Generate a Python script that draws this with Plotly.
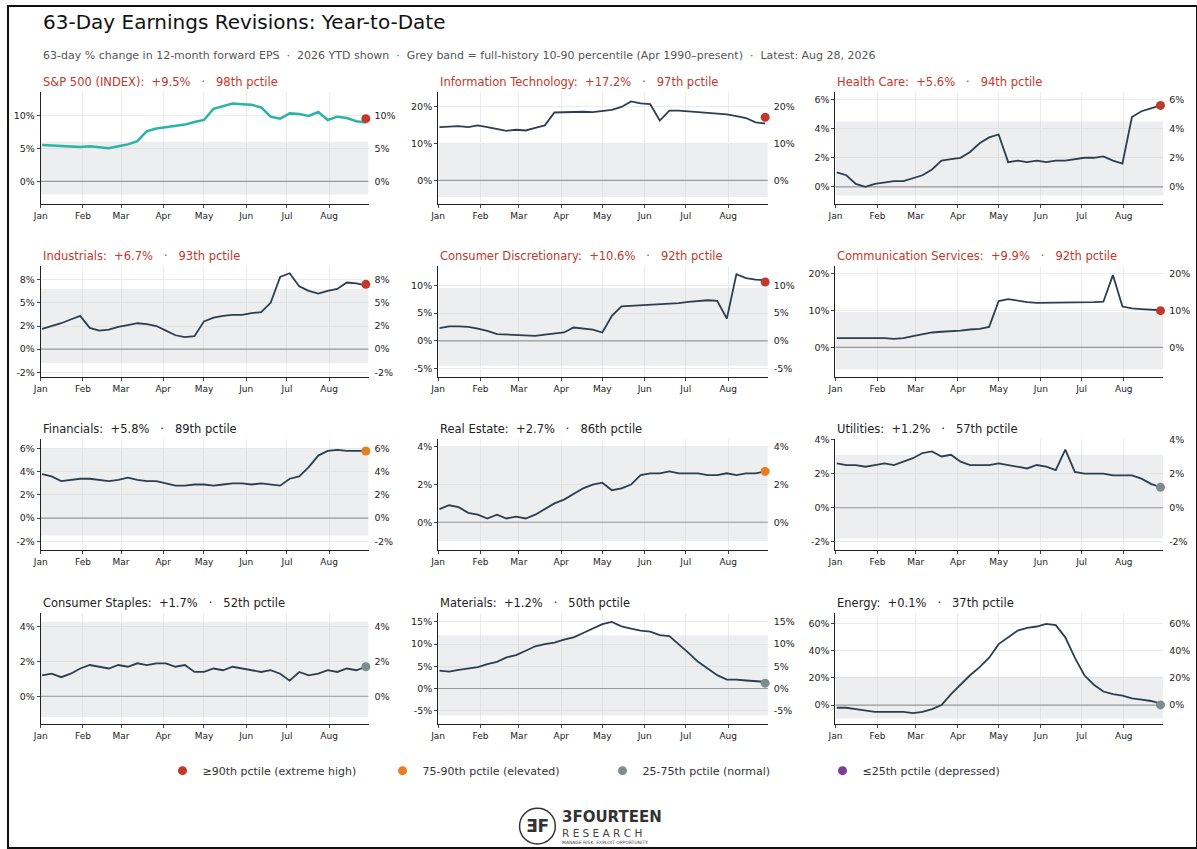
import plotly.graph_objects as go

dates = ["2026-01-02","2026-01-09","2026-01-16","2026-01-23","2026-01-30","2026-02-06","2026-02-13",
         "2026-02-20","2026-02-27","2026-03-06","2026-03-13","2026-03-20","2026-03-27","2026-04-03",
         "2026-04-10","2026-04-17","2026-04-24","2026-05-01","2026-05-08","2026-05-15","2026-05-22",
         "2026-05-29","2026-06-05","2026-06-12","2026-06-19","2026-06-26","2026-07-03","2026-07-10",
         "2026-07-17","2026-07-24","2026-07-31","2026-08-07","2026-08-14","2026-08-21","2026-08-28"]

names = ["S&P 500 (INDEX)", "Information Technology", "Health Care", "Industrials",
         "Consumer Discretionary", "Communication Services", "Financials", "Real Estate",
         "Utilities", "Consumer Staples", "Materials", "Energy"]
latest = [9.5, 17.2, 5.6, 6.7, 10.6, 9.9, 5.8, 2.7, 1.2, 1.7, 1.2, 0.1]
pctile = [98, 97, 94, 93, 92, 92, 89, 86, 57, 52, 50, 37]
dot_y = [9.5, 17.2, 5.6, 7.0, 10.6, 9.9, 5.8, 2.7, 1.2, 1.7, 1.2, 0.1]

sp500 = [5.5,5.4,5.3,5.3,5.2,5.3,5.2,5.0,5.3,5.6,6.1,7.6,8.0,8.2,8.3,8.6,9.0,9.3,11.0,11.4,11.8,11.7,11.6,11.2,9.8,9.5,10.3,10.2,9.9,10.5,9.3,9.8,9.6,9.1,8.9]
info_tech = [14.5,14.6,14.8,14.5,15.0,14.5,14.0,13.5,13.8,13.6,14.3,15.0,18.5,18.6,18.5,18.7,18.6,19.0,19.2,20.0,21.5,21.0,20.8,16.3,19.0,19.0,18.8,18.6,18.5,18.3,18.0,17.5,17.0,15.8,15.5]
health = [1.0,0.8,0.2,0.0,0.2,0.3,0.4,0.4,0.6,0.8,1.2,1.8,1.9,2.0,2.4,3.0,3.4,3.6,1.7,1.8,1.7,1.8,1.7,1.8,1.8,1.9,2.0,2.0,2.1,1.8,1.6,4.8,5.2,5.4,5.6]
industrials = [2.2,2.5,2.8,3.2,3.6,2.3,2.0,2.1,2.4,2.6,2.8,2.7,2.5,2.0,1.5,1.3,1.4,3.0,3.4,3.6,3.7,3.7,3.9,4.0,5.0,7.8,8.2,6.8,6.3,6.0,6.3,6.5,7.2,7.1,6.9]
cons_disc = [2.3,2.6,2.6,2.5,2.2,1.8,1.2,1.1,1.0,1.0,0.9,1.1,1.3,1.5,2.4,2.2,2.0,1.5,4.5,6.2,6.3,6.4,6.5,6.5,6.6,6.8,7.0,7.1,7.3,7.2,4.0,12.0,11.3,11.0,10.9]
comm_svc = [2.5,2.5,2.6,2.4,2.4,2.5,2.3,2.5,3.0,3.5,4.0,4.2,4.3,4.5,4.8,5.0,5.5,12.5,13.0,12.5,12.2,12.0,12.0,12.0,12.0,12.0,12.0,12.2,12.3,19.5,11.0,10.5,10.3,10.1,10.0]
financials = [3.8,3.6,3.2,3.3,3.4,3.4,3.3,3.2,3.3,3.5,3.3,3.2,3.2,3.0,2.8,2.8,2.9,2.9,2.8,2.9,3.0,3.0,2.9,3.0,2.9,2.8,3.4,3.6,4.4,5.4,5.8,5.9,5.8,5.8,5.8]
real_estate = [0.7,0.9,0.8,0.5,0.4,0.2,0.4,0.2,0.3,0.2,0.4,0.7,1.0,1.2,1.5,1.8,2.0,2.1,1.7,1.8,2.0,2.5,2.6,2.6,2.7,2.6,2.6,2.6,2.5,2.5,2.6,2.5,2.6,2.6,2.7]
utilities = [2.6,2.5,2.5,2.4,2.5,2.6,2.5,2.7,2.9,3.2,3.3,3.0,3.1,2.7,2.5,2.5,2.5,2.6,2.5,2.4,2.3,2.5,2.4,2.2,3.4,2.1,2.0,2.0,2.0,1.9,1.9,1.9,1.7,1.4,1.2]
staples = [1.2,1.3,1.1,1.3,1.6,1.8,1.7,1.6,1.8,1.7,1.9,1.8,1.9,1.9,1.7,1.8,1.4,1.4,1.6,1.5,1.7,1.6,1.5,1.4,1.5,1.3,0.9,1.4,1.2,1.3,1.5,1.4,1.6,1.5,1.7]
materials = [4.0,3.8,4.2,4.5,4.8,5.5,6.0,7.0,7.5,8.5,9.5,10.0,10.3,11.0,11.5,12.5,13.5,14.5,15.0,14.0,13.5,13.0,12.8,12.0,11.8,10.0,8.0,6.0,4.5,3.0,2.0,2.0,1.8,1.6,1.5]
energy = [-2,-2,-3,-4,-5,-5,-5,-5,-6,-5,-3,0,8,15,22,28,35,45,50,55,57,58,60,59,50,35,22,15,10,8,7,5,4,3,1]
series = [sp500, info_tech, health, industrials, cons_disc, comm_svc, financials, real_estate,
          utilities, staples, materials, energy]

band_lo = [-2.0, -4.5, -0.6, -1.5, -4.5, -6.0, -1.5, -1.0, -1.8, -1.2, -6.0, -10.0]
band_hi = [6.0, 10.0, 4.5, 6.5, 9.5, 9.5, 6.0, 4.0, 3.1, 4.3, 12.0, 21.0]
y_ranges = [[-3.5, 13.5], [-6.5, 24], [-1.2, 6.5], [-3, 9], [-6.5, 13.5], [-8, 22],
            [-2.8, 6.8], [-1.5, 4.4], [-2.5, 4.0], [-1.6, 4.8], [-8, 17], [-14, 68]]
tick_vals = [[0,5,10],[0,10,20],[0,2,4,6],[-2.5,0,2.5,5,7.5],[-5,0,5,10],[0,10,20],
             [-2,0,2,4,6],[0,2,4],[-2,0,2,4],[0,2,4],[-5,0,5,10,15],[0,20,40,60]]
tick_text = [None,None,None,["-2%","0%","2%","5%","8%"],None,None,None,None,None,None,None,None]

legend_labels = ["≥90th pctile (extreme high)", "75-90th pctile (elevated)",
                 "25-75th pctile (normal)", "≤25th pctile (depressed)"]
legend_colors = ["#c0392b", "#e67e22", "#7f8c8d", "#7d3c98"]

W, H = 1197, 849
col_px = [(33, 363), (433, 765), (833, 1163)]
row_px = [(87, 200), (262, 374), (437, 549), (612, 724)]

def dot_color(p):
    if p >= 90: return legend_colors[0]
    if p >= 75: return legend_colors[1]
    if p > 25: return legend_colors[2]
    return legend_colors[3]

fig = go.Figure()
layout = dict(width=W, height=H, margin=dict(l=0, r=0, t=0, b=0),
              paper_bgcolor="white", plot_bgcolor="white",
              font=dict(family="DejaVu Sans", size=9, color="#222"),
              showlegend=True,
              legend=dict(orientation="h", x=0.5, xanchor="center", y=1-771/H, yanchor="middle",
                          font=dict(size=11, color="#333"), itemwidth=30, entrywidth=175, bgcolor="rgba(0,0,0,0)"))
annotations = []
shapes = []

for i in range(12):
    r, c = divmod(i, 3)
    x0, x1 = col_px[c]; ytop, ybot = row_px[r]
    n = i + 1
    xa, ya, yb = f"x{n}", f"y{n}", f"y{n+12}"
    xdom = [x0 / W, x1 / W]; ydom = [1 - ybot / H, 1 - ytop / H]
    layout[f"xaxis{n}"] = dict(domain=xdom, anchor=ya, type="date",
                               range=["2026-01-01", "2026-08-30"], dtick="M1", tickformat="%b",
                               tick0="2026-01-01", showgrid=True, gridcolor="#ececec",
                               showline=True, linecolor="#222", ticks="outside", ticklen=3,
                               tickfont=dict(size=9), zeroline=False)
    tt = tick_text[i] or [f"{v:g}%" for v in tick_vals[i]]
    common = dict(range=y_ranges[i], tickmode="array", tickvals=tick_vals[i], ticktext=tt,
                  tickfont=dict(size=9.5), ticks="outside", ticklen=3, zeroline=False)
    layout[f"yaxis{n}"] = dict(domain=ydom, anchor=xa, showgrid=True, gridcolor="#ececec",
                               showline=True, linecolor="#222", **common)
    layout[f"yaxis{n+12}"] = dict(overlaying=ya, side="right", anchor=xa, showgrid=False,
                                  showline=False, tickcolor="rgba(0,0,0,0)", **common)
    fig.add_trace(go.Scatter(x=["2026-01-01", "2026-08-30", "2026-08-30", "2026-01-01"],
                             y=[band_lo[i], band_lo[i], band_hi[i], band_hi[i]],
                             fill="toself", fillcolor="rgba(200,205,210,0.35)", line=dict(width=0),
                             mode="lines", hoverinfo="skip", showlegend=False, xaxis=xa, yaxis=ya))
    fig.add_trace(go.Scatter(x=["2026-01-01", "2026-08-30"], y=[0, 0], mode="lines",
                             line=dict(color="#999", width=1.2), showlegend=False, xaxis=xa, yaxis=ya))
    fig.add_trace(go.Scatter(x=dates, y=series[i], mode="lines",
                             line=dict(color="#2ab3a6" if i == 0 else "#2c3e50",
                                       width=2.5 if i == 0 else 1.8),
                             showlegend=False, xaxis=xa, yaxis=ya))
    fig.add_trace(go.Scatter(x=[dates[-1]], y=[dot_y[i]], mode="markers",
                             marker=dict(color=dot_color(pctile[i]), size=9),
                             cliponaxis=False, showlegend=False, xaxis=xa, yaxis=yb))
    annotations.append(dict(x=x0 / W, y=1 - (ytop - 10) / H, xref="paper", yref="paper",
                            xanchor="left", yanchor="middle", showarrow=False,
                            text=f"{names[i]}:  {latest[i]:+.1f}%   ·   {pctile[i]}th pctile",
                            font=dict(size=11.5, color="#c0392b" if pctile[i] >= 90 else "#222")))

for lab, colr in zip(legend_labels, legend_colors):
    fig.add_trace(go.Scatter(x=[None], y=[None], mode="markers", name=lab,
                             marker=dict(color=colr, size=9), xaxis="x1", yaxis="y1"))

annotations += [
    dict(x=33 / W, y=1 - 16 / H, xref="paper", yref="paper", xanchor="left", yanchor="middle",
         showarrow=False, text="63-Day Earnings Revisions: Year-to-Date", font=dict(size=20, color="#111")),
    dict(x=33 / W, y=1 - 50 / H, xref="paper", yref="paper", xanchor="left", yanchor="middle",
         showarrow=False, font=dict(size=11, color="#555"),
         text="63-day % change in 12-month forward EPS  ·  2026 YTD shown  ·  Grey band = full-history 10-90 percentile (Apr 1990–present)  ·  Latest: Aug 28, 2026"),
    dict(x=533 / W, y=1 - 827 / H, xref="paper", yref="paper", xanchor="center", yanchor="middle",
         showarrow=False, text="<b>ƎF</b>", font=dict(size=17, color="#333")),
    dict(x=556 / W, y=1 - 818 / H, xref="paper", yref="paper", xanchor="left", yanchor="middle",
         showarrow=False, text="<b>3FOURTEEN</b>", font=dict(size=15, color="#333")),
    dict(x=556 / W, y=1 - 834 / H, xref="paper", yref="paper", xanchor="left", yanchor="middle",
         showarrow=False, text="R E S E A R C H", font=dict(size=10.5, color="#444")),
    dict(x=556 / W, y=1 - 843 / H, xref="paper", yref="paper", xanchor="left", yanchor="middle",
         showarrow=False, text="MANAGE RISK. EXPLOIT OPPORTUNITY.", font=dict(size=4.5, color="#444")),
]
shapes += [
    dict(type="circle", xref="paper", yref="paper", x0=515 / W, x1=551 / W, y0=1 - 845 / H, y1=1 - 809 / H,
         line=dict(color="#333", width=1.5)),
    dict(type="rect", xref="paper", yref="paper", x0=0, x1=1, y0=0, y1=1,
         line=dict(color="#111", width=2)),
]
layout["annotations"] = annotations
layout["shapes"] = shapes
fig.update_layout(**layout)
fig.write_html("out.html", config={"displayModeBar": False},
               post_script="document.documentElement.style.margin='0';document.documentElement.style.padding='0';"
                           "document.body.style.margin='0';document.body.style.padding='0';document.body.style.overflow='hidden';")
